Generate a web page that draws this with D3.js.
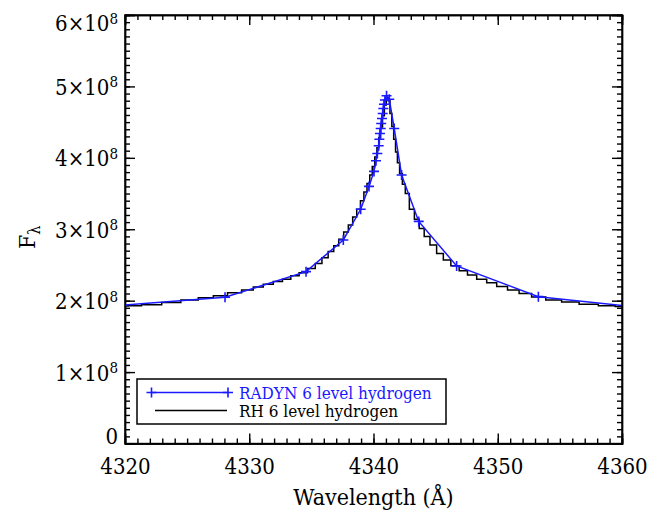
<!DOCTYPE html>
<html>
<head>
<script src="https://cdn.jsdelivr.net/npm/d3@7"></script>
<style type="text/css">
  body { margin: 0px; background: white; }
  svg text { font-family: "DejaVu Serif Condensed", "DejaVu Serif", serif; }
  .axis path, .axis line { stroke: black; stroke-width: 1.4px; }
  .radyn { fill: none; stroke: #1a1aff; stroke-width: 1.5px; }
  .rh { fill: none; stroke: black; stroke-width: 1.5px; }
  .mark { fill: none; stroke: #1a1aff; stroke-width: 1.6px; }
</style>
</head>
<body>
<script>

var serif = "'DejaVu Serif Condensed', 'DejaVu Serif', serif";

// RADYN 6 level hydrogen (flux in units of 1e8)
var radynWave = [4314.0, 4328.05, 4334.57, 4337.57, 4338.97, 4339.64, 4340.04, 4340.20, 4340.31,
                 4340.42, 4340.47, 4340.52, 4340.58, 4340.62, 4340.68, 4340.74, 4340.79, 4340.84,
                 4340.92, 4341.05, 4341.27, 4341.67, 4342.26, 4343.64, 4346.69, 4353.27, 4366.0];
var radynFlux = [1.86, 2.047, 2.406, 2.85, 3.28, 3.60, 3.81, 3.96, 4.06,
                 4.17, 4.26, 4.34, 4.41, 4.48, 4.55, 4.62, 4.69, 4.75,
                 4.81, 4.87, 4.82, 4.41, 3.76, 3.11, 2.486, 2.056, 1.82];

// RH 6 level hydrogen
var rhWave = [4320.0, 4320.5, 4322.15, 4323.76, 4325.23, 4326.57, 4327.65, 4328.85, 4329.92, 4330.73,
              4331.53, 4332.34, 4333.01, 4333.68, 4334.35, 4335.03, 4335.6, 4336.1, 4336.6, 4337.0,
              4337.4, 4337.8, 4338.15, 4338.5, 4338.8, 4339.1, 4339.35, 4339.6, 4339.8, 4340.0,
              4340.2, 4340.35, 4340.5, 4340.65, 4340.8, 4340.95, 4341.1, 4341.25, 4341.4, 4341.55,
              4341.7, 4341.85, 4342.0, 4342.2, 4342.45, 4342.67, 4343.1, 4343.48, 4343.88, 4344.28,
              4344.81, 4345.35, 4345.89, 4346.56, 4347.23, 4347.9, 4348.71, 4349.51, 4350.32, 4351.25,
              4352.19, 4353.26, 4354.47, 4355.81, 4357.29, 4358.9, 4360.0];
var rhFlux = [1.925, 1.93, 1.943, 1.975, 2.01, 2.04, 2.07, 2.11, 2.15, 2.19,
              2.23, 2.27, 2.30, 2.35, 2.39, 2.45, 2.52, 2.60, 2.69, 2.77,
              2.86, 2.96, 3.06, 3.17, 3.28, 3.40, 3.52, 3.64, 3.76, 3.88,
              4.01, 4.14, 4.28, 4.43, 4.59, 4.74, 4.84, 4.80, 4.62, 4.44,
              4.26, 4.08, 3.93, 3.78, 3.63, 3.50, 3.28, 3.14, 3.01, 2.90,
              2.78, 2.66, 2.57, 2.49, 2.42, 2.36, 2.30, 2.25, 2.20, 2.15,
              2.10, 2.05, 2.01, 1.98, 1.95, 1.93, 1.92];

var xTicks = [4320, 4330, 4340, 4350, 4360];
var yTicks = [0, 1, 2, 3, 4, 5, 6];
var legendLabels = ["RADYN 6 level hydrogen", "RH 6 level hydrogen"];

var margin = {top: 15, right: 30, bottom: 74.5, left: 125},
    width = 652 - margin.left - margin.right,
    height = 518 - margin.top - margin.bottom;

var svg = d3.select("body").append("svg")
    .attr("width", 652)
    .attr("height", 518)
    .append("g")
    .attr("transform", "translate(" + margin.left + "," + margin.top + ")");

var x = d3.scaleLinear().domain([4320, 4360]).range([0, width]);
var y = d3.scaleLinear().domain([0, 6]).range([height, 0]);

var xMinor = d3.range(4320, 4361, 1);
var yMinor = d3.range(0, 6.001, 0.1);

svg.append("clipPath").attr("id", "clip")
  .append("rect").attr("width", width).attr("height", height);

// minor ticks, all four sides, pointing in
svg.append("g").attr("class", "axis").attr("transform", "translate(0," + height + ")")
  .call(d3.axisBottom(x).tickValues(xMinor).tickSize(-5).tickFormat(""));
svg.append("g").attr("class", "axis")
  .call(d3.axisTop(x).tickValues(xMinor).tickSize(-5).tickFormat(""));
svg.append("g").attr("class", "axis")
  .call(d3.axisLeft(y).tickValues(yMinor).tickSize(-5).tickFormat(""));
svg.append("g").attr("class", "axis").attr("transform", "translate(" + width + ",0)")
  .call(d3.axisRight(y).tickValues(yMinor).tickSize(-5).tickFormat(""));

// major ticks
var xAxis = svg.append("g").attr("class", "axis").attr("transform", "translate(0," + height + ")")
  .call(d3.axisBottom(x).tickValues(xTicks).tickSize(-10).tickPadding(15).tickFormat(d3.format("d")));
xAxis.attr("font-family", serif).attr("font-size", 22);
xAxis.selectAll("text").style("font-family", serif).style("font-size", "22px").attr("fill", "black");
svg.append("g").attr("class", "axis")
  .call(d3.axisTop(x).tickValues(xTicks).tickSize(-10).tickFormat(""));

var yAxis = svg.append("g").attr("class", "axis")
  .call(d3.axisLeft(y).tickValues(yTicks).tickSize(-10).tickFormat(""));
yAxis.attr("font-family", serif);
yAxis.selectAll(".tick").append("text")
  .attr("x", -7)
  .attr("dy", function(d) { return d === 0 ? "0" : (d === 6 ? "0.72em" : "0.36em"); })
  .attr("text-anchor", "end")
  .attr("fill", "black")
  .style("font-family", serif)
  .style("font-size", "22px")
  .each(function(d) {
    var t = d3.select(this);
    if (d === 0) { t.text("0"); return; }
    t.append("tspan").text(d + "\u00d710");
    t.append("tspan").attr("dy", "-0.5em").style("font-size", "15px").text("8");
  });
svg.append("g").attr("class", "axis").attr("transform", "translate(" + width + ",0)")
  .call(d3.axisRight(y).tickValues(yTicks).tickSize(-10).tickFormat(""));

// RH staircase
var rhData = rhWave.map(function(w, i) { return [w, rhFlux[i]]; });
var stepLine = d3.line()
    .curve(d3.curveStep)
    .x(function(d) { return x(d[0]); })
    .y(function(d) { return y(d[1]); });

svg.append("path")
    .datum(rhData)
    .attr("class", "rh")
    .attr("clip-path", "url(#clip)")
    .attr("d", stepLine);

// RADYN line with plus markers
var radynData = radynWave.map(function(w, i) { return [w, radynFlux[i]]; });
var line = d3.line()
    .x(function(d) { return x(d[0]); })
    .y(function(d) { return y(d[1]); });

svg.append("path")
    .datum(radynData)
    .attr("class", "radyn")
    .attr("clip-path", "url(#clip)")
    .attr("d", line);

var plus = "M-5,0H5M0,-5V5";
svg.append("g").attr("clip-path", "url(#clip)")
  .selectAll("path")
  .data(radynData)
  .enter().append("path")
    .attr("class", "mark")
    .attr("transform", function(d) { return "translate(" + x(d[0]) + "," + y(d[1]) + ")"; })
    .attr("d", plus);

// frame
svg.append("rect")
    .attr("width", width).attr("height", height)
    .attr("fill", "none").attr("stroke", "black").attr("stroke-width", 1.4);

// axis titles
svg.append("text")
    .attr("x", width / 2)
    .attr("y", height + 61.5)
    .attr("text-anchor", "middle")
    .style("font-family", serif)
    .style("font-size", "23px")
    .text("Wavelength (\u00c5)");

var yTitle = svg.append("text")
    .attr("transform", "translate(" + (-90) + "," + (height / 2 + 8) + ") rotate(-90)")
    .attr("text-anchor", "middle")
    .style("font-family", serif)
    .style("font-size", "23px");
yTitle.append("tspan").text("F");
yTitle.append("tspan").attr("dy", "0.3em").style("font-size", "16px").text("\u03bb");

// legend
var lg = svg.append("g").attr("transform", "translate(12," + (height - 64.5) + ")");
lg.append("rect")
    .attr("width", 309).attr("height", 45)
    .attr("fill", "white").attr("stroke", "black").attr("stroke-width", 1.5);

lg.append("line").attr("x1", 14.5).attr("x2", 91).attr("y1", 13.5).attr("y2", 13.5)
  .attr("stroke", "#1a1aff").attr("stroke-width", 1.5);
lg.selectAll(".lmark").data([14.5, 91]).enter().append("path")
  .attr("class", "mark")
  .attr("transform", function(d) { return "translate(" + d + ",13.5)"; })
  .attr("d", plus);
lg.append("text").attr("x", 102).attr("y", 19.5)
  .style("font-family", serif)
  .style("font-size", "17px").style("fill", "#1a1aff").text(legendLabels[0]);

lg.append("line").attr("x1", 18).attr("x2", 90).attr("y1", 31.5).attr("y2", 31.5)
  .attr("stroke", "black").attr("stroke-width", 1.5);
lg.append("text").attr("x", 102).attr("y", 37.5)
  .style("font-family", serif)
  .style("font-size", "17px").text(legendLabels[1]);

</script>
</body>
</html>
